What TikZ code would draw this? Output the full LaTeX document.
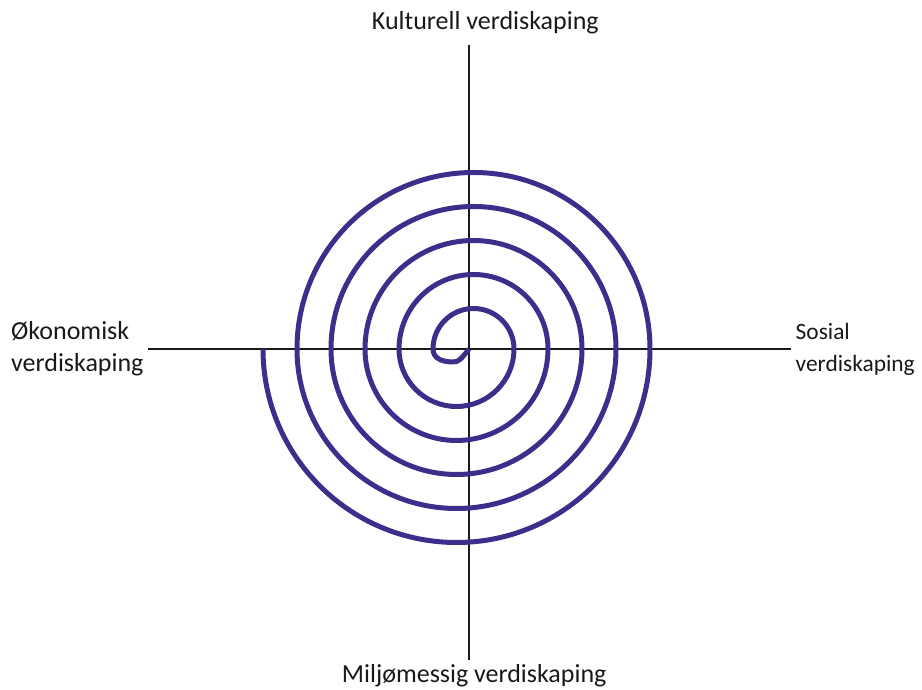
\documentclass[tikz,border=0pt]{standalone}
\usepackage{fontspec}
\setmainfont{Carlito}
\definecolor{spiral}{RGB}{59,47,139}
\definecolor{axis}{RGB}{26,26,26}
\begin{document}
\begin{tikzpicture}[x=1pt,y=1pt,
  axisline/.style={draw=axis,line width=2pt},
  spiralline/.style={draw=spiral,line width=5pt,line join=round},
  lbl/.style={inner sep=0pt,font=\fontsize{26}{32}\selectfont,text=black!90},
  lbls/.style={inner sep=0pt,font=\fontsize{23.4}{32}\selectfont,text=black!90}]
\useasboundingbox (0,0) rectangle (922,690);
% axes
\coordinate (vt) at (469,644.5);
\coordinate (vb) at (469,30);
\coordinate (hl) at (148,341);
\coordinate (hr) at (790.5,341);
\draw[axisline] (vt) -- (vb);
\draw[axisline] (hl) -- (hr);
% spiral
\coordinate (s0) at (263,341);
\draw[spiralline] (s0)
  arc[start angle=180,end angle=360,radius=193.5]
  arc[start angle=0,end angle=180,radius=176.5]
  arc[start angle=180,end angle=360,radius=159.5]
  arc[start angle=0,end angle=180,radius=142.5]
  arc[start angle=180,end angle=360,radius=125.5]
  arc[start angle=0,end angle=180,radius=108.5]
  arc[start angle=180,end angle=360,radius=91.5]
  arc[start angle=0,end angle=180,radius=74.5]
  arc[start angle=180,end angle=360,radius=57.5]
  arc[start angle=0,end angle=180,radius=40.5]
  .. controls (433,331) and (443,328) .. (453,328)
  .. controls (459,328) and (461,331) .. (469,341);
% labels
\node[lbl,anchor=base] (top) at (485.3,660.5) {Kulturell verdiskaping};
\node[lbl,anchor=base] (bot) at (474.2,7) {Miljømessig verdiskaping};
\node[lbl,anchor=base west,align=left] (left) at (11,318) {Økonomisk\\verdiskaping};
\node[lbls,anchor=base west,align=left] (right) at (795.5,318) {Sosial\\verdiskaping};
\end{tikzpicture}
\end{document}
